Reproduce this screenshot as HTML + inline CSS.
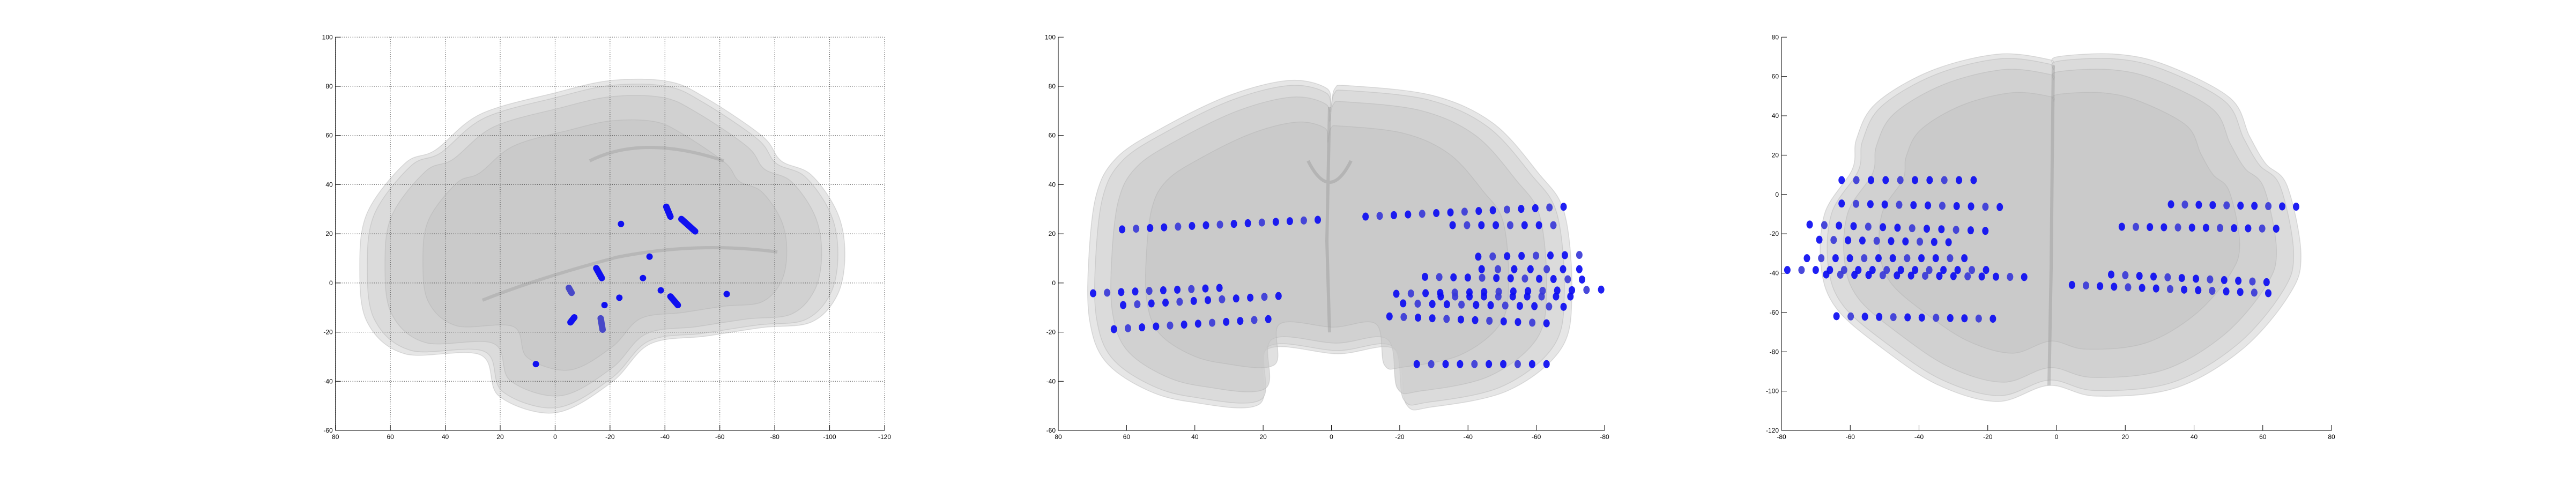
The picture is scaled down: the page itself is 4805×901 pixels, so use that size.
<!DOCTYPE html>
<html><head><meta charset="utf-8"><style>
html,body{margin:0;padding:0;background:#fff;}
svg{display:block;font-family:"Liberation Sans",sans-serif;}
</style></head><body>
<svg id="fig" width="4805" height="901" viewBox="0 0 4805 901" xmlns="http://www.w3.org/2000/svg">
<rect width="4805" height="901" fill="#fff"/>
<g id="brains"></g>
<g id="axes"></g>
<g id="marks"></g>
</svg>
<script>
// ---------- data ----------
// Panel 1 (sagittal): electrode strips as [x1,y1,x2,y2]
const sagStrips = [[-24,24,-24,24],[-40.5,31,-42,27],[-46,26,-51,21],[-34.4,10.7,-34.4,10.7],[-15,6,-17,2],[-32,2,-32,2],[-38.5,-3,-38.5,-3],[-42,-5.5,-44.7,-9],[-62.5,-4.5,-62.5,-4.5],[-5,-2,-6,-4],[-23.4,-6,-23.4,-6],[-18,-9,-18,-9],[-5.6,-16,-7,-14],[-16.6,-14.4,-17.3,-19],[7,-33,7,-33]];
const sagTicksX = [80,60,40,20,0,-20,-40,-60,-80,-100,-120];
const sagTicksY = [100,80,60,40,20,0,-20,-40,-60];
// Panel 2 (coronal): rows [xStart,yStart,xEnd,yEnd,count]
const corRows = [[61.3,21.8,4,25.7,15],[-10,27,-68,31,15],[-35.5,23.5,-65,23.5,8],[-43,10.7,-72.6,11.4,8],[-44,5.6,-72.6,5.6,7],[-27.4,2.5,-73.4,1.4,12],[-19,-4.4,-79,-2.7,15],[-32,-5.5,-70,-5.5,10],[-21,-8.3,-68,-9.7,12],[-17,-13.6,-63,-16.4,12],[-25,-33,-63,-33,10],[69.8,-4.2,32.8,-2,10],[61,-9,15.5,-5.3,12],[63.7,-18.8,18.5,-14.7,12]];
const corTicksX = [80,60,40,20,0,-20,-40,-60,-80];
const corTicksY = [100,80,60,40,20,0,-20,-40,-60];
// Panel 3 (axial)
const axRows = [[-62.5,7.3,-24.1,7.3,10],[-62.5,-4.6,-16.5,-6.4,12],[-71.8,-15.3,-20.7,-18.5,13],[-69,-23,-31.4,-24.3,10],[-72.6,-32.4,-26.8,-32.4,12],[-78.3,-38.4,-20.5,-38.4,15],[-67,-40.7,-9.4,-42,15],[-64,-61.9,-18.5,-63.2,12],[33.3,-5,69.7,-6.2,10],[19,-16.4,63.9,-17.4,12],[15.9,-40.7,61.1,-44.6,12],[4.5,-46,61.6,-50.2,15]];
const axTicksX = [-80,-60,-40,-20,0,20,40,60,80];
const axTicksY = [80,60,40,20,0,-20,-40,-60,-80,-100,-120];

const NS="http://www.w3.org/2000/svg";
function mk(tag,attrs,parent){const e=document.createElementNS(NS,tag);for(const k in attrs)e.setAttribute(k,attrs[k]);parent.appendChild(e);return e;}
function lin(d0,d1,p0,p1){return v=>p0+(v-d0)/(d1-d0)*(p1-p0);}
const Y0=69.3,Y1=803;
const panels=[
 {name:'sagittal',x0:625.7,x1:1650,xd:[80,-120],yd:[100,-60],tx:sagTicksX,ty:sagTicksY,grid:true},
 {name:'coronal',x0:1974,x1:2993,xd:[80,-80],yd:[100,-60],tx:corTicksX,ty:corTicksY,grid:false},
 {name:'axial',x0:3323,x1:4349,xd:[-80,80],yd:[80,-120],tx:axTicksX,ty:axTicksY,grid:false}
];
panels.forEach(p=>{p.sx=lin(p.xd[0],p.xd[1],p.x0,p.x1);p.sy=lin(p.yd[0],p.yd[1],Y0,Y1);});

// ---------- brains ----------
const outlines={
 sagittal:[[671,499],[685,397],[755,305],[812,280],[896,213],[1036,173],[1141,150],[1247,152],[1317,183],[1422,254],[1457,300],[1513,326],[1562,397],[1576,474],[1562,550],[1513,601],[1422,611],[1317,627],[1212,642],[1141,713],[1036,770],[931,739],[896,662],[755,660],[685,601]],
 coronal:[[2405,150],[2475,165],[2482,200],[2490,165],[2518,160],[2672,178],[2784,229],[2868,321],[2918,397],[2932,550],[2911,652],[2812,729],[2672,759],[2623,754],[2602,652],[2496,660],[2363,652],[2349,754],[2216,749],[2132,724],[2061,673],[2033,601],[2030,499],[2044,367],[2082,295],[2167,239],[2293,178]],
 axial:[[3727,101],[3822,111],[3830,122],[3837,106],[3947,101],[4042,122],[4160,183],[4196,254],[4226,305],[4266,346],[4292,474],[4270,550],[4182,652],[4057,724],[3910,739],[3822,719],[3727,749],[3617,719],[3514,652],[3426,576],[3397,499],[3404,397],[3455,316],[3463,259],[3499,193],[3602,132]]
};
const bg=document.getElementById('brains');
function smoothPath(pts){let d='M'+pts[0][0]+','+pts[0][1];const n=pts.length;
 for(let i=0;i<n;i++){const p0=pts[(i-1+n)%n],p1=pts[i],p2=pts[(i+1)%n],p3=pts[(i+2)%n];
  d+=' C'+(p1[0]+(p2[0]-p0[0])/6)+','+(p1[1]+(p2[1]-p0[1])/6)+' '+(p2[0]-(p3[0]-p1[0])/6)+','+(p2[1]-(p3[1]-p1[1])/6)+' '+p2[0]+','+p2[1];}
 return d+'Z';}
Object.keys(outlines).forEach(k=>{
 const pts=outlines[k];const cx=pts.reduce((a,p)=>a+p[0],0)/pts.length,cy=pts.reduce((a,p)=>a+p[1],0)/pts.length;
 const g=mk('g',{},bg);
 
 
 [[1,'#e6e6e6',1],[0.97,'#d8d8d8',0.8],[0.9,'#cdcdcd',0.7],[0.75,'#c4c4c4',0.5]].forEach(s=>{
  const sp=pts.map(p=>[cx+(p[0]-cx)*s[0],cy+(p[1]-cy)*s[0]]);
  mk('path',{d:smoothPath(sp),fill:s[1],'fill-opacity':s[2],stroke:'#b0b0b0','stroke-opacity':0.4,'stroke-width':1.5},g);
 });
});
// darker midline/fiber textures
mk('path',{d:'M2480,200 L2478,300 L2475,450 L2480,620 M2440,300 Q2480,380 2520,300',stroke:'#8c8c8c','stroke-width':6,'stroke-opacity':0.35,fill:'none'},bg);
mk('path',{d:'M3830,122 L3828,300 L3826,500 L3822,719',stroke:'#8c8c8c','stroke-width':6,'stroke-opacity':0.35,fill:'none'},bg);
mk('path',{d:'M900,560 Q1000,520 1150,480 Q1300,450 1450,470 M1100,300 Q1200,250 1350,300',stroke:'#8c8c8c','stroke-width':6,'stroke-opacity':0.3,fill:'none'},bg);

// ---------- axes ----------
const ax=document.getElementById('axes');
panels.forEach(p=>{
 const g=mk('g',{},ax);
 
 
 if(p.grid){
  p.tx.forEach(v=>mk('line',{x1:p.sx(v),x2:p.sx(v),y1:Y0,y2:Y1,stroke:'#000','stroke-width':1,'stroke-dasharray':'1,3'},g));
  p.ty.forEach(v=>mk('line',{x1:p.x0,x2:p.x1,y1:p.sy(v),y2:p.sy(v),stroke:'#000','stroke-width':1,'stroke-dasharray':'1,3'},g));
 }
 mk('line',{x1:p.x0,x2:p.x1,y1:Y1,y2:Y1,stroke:'#000','stroke-width':1},g);
 mk('line',{x1:p.x0,x2:p.x0,y1:Y0,y2:Y1,stroke:'#000','stroke-width':1},g);
 p.tx.forEach(v=>{const x=p.sx(v);mk('line',{x1:x,x2:x,y1:Y1,y2:Y1-10,stroke:'#000'},g);
  const t=mk('text',{x:x,y:Y1+16,'text-anchor':'middle','font-size':12,fill:'#000'},g);t.textContent=v;
  
  });
 p.ty.forEach(v=>{const y=p.sy(v);mk('line',{x1:p.x0,x2:p.x0+10,y1:y,y2:y,stroke:'#000'},g);
  const t=mk('text',{x:p.x0-5,y:y+4,'text-anchor':'end','font-size':12,fill:'#000'},g);t.textContent=v;
  
  });
});

// ---------- electrodes ----------
const mg=document.getElementById('marks');
const P1=panels[0];
sagStrips.forEach((s,i)=>{
 const l=mk('line',{x1:P1.sx(s[0]),y1:P1.sy(s[1]),x2:P1.sx(s[2]),y2:P1.sy(s[3]),stroke:(i==9||i==13)?'#4848c8':'#1010f0','stroke-width':12,'stroke-linecap':'round'},mg);
 
 
});
function drawRows(p,rows,tag){
 rows.forEach(r=>{const n=r[4];for(let i=0;i<n;i++){const f=n>1?i/(n-1):0;
  const x=r[0]+(r[2]-r[0])*f,y=r[1]+(r[3]-r[1])*f;
  const c=mk('ellipse',{cx:p.sx(x),cy:p.sy(y),rx:6,ry:7.5,fill:(i%3==1)?'#3a3ad8':'#0c0cf2','fill-opacity':0.92},mg);
  
  }});
}
drawRows(panels[1],corRows,'coronal');
drawRows(panels[2],axRows,'axial');
</script>
</body></html>
